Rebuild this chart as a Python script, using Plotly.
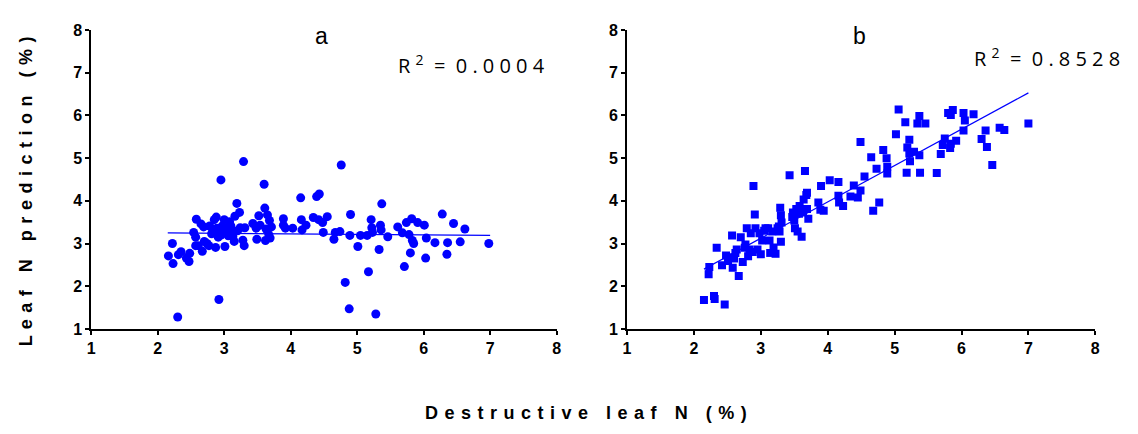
import plotly.graph_objects as go

# ---- Panel a data (destructive N vs predicted N) ----
a_x = [2.16, 2.22, 2.23, 2.30, 2.31, 2.35, 2.43, 2.47, 2.48, 2.54, 2.57, 2.58, 2.57, 2.61, 2.65,
       2.67, 2.69, 2.74, 2.77, 2.78, 2.81, 2.85, 2.87, 2.88, 2.89, 2.91, 2.92, 2.93, 2.95, 2.97,
       3.00, 3.01, 3.03, 3.05, 3.08, 3.10, 3.13, 3.15, 3.16, 3.19, 3.23, 3.24, 3.28, 3.29, 3.30,
       3.31, 3.43, 3.48, 3.49, 3.52, 3.54, 3.60, 3.61, 3.62, 3.63, 3.65, 3.67, 3.68, 3.69, 3.71,
       3.89, 3.89, 3.92, 4.03, 4.15, 4.16, 4.17, 4.23, 4.34, 4.39, 4.43, 4.42, 4.48, 4.49, 4.55,
       4.65, 4.67, 4.74, 4.76, 4.82, 4.88, 4.89, 4.90, 5.01, 5.05, 5.15, 5.17, 5.21, 5.22, 5.23,
       5.28, 5.33, 5.35, 5.36, 5.37, 5.46, 5.61, 5.68, 5.71, 5.74, 5.78, 5.80, 5.82, 5.83, 5.85,
       5.91, 6.01, 6.03, 6.04, 6.17, 6.28, 6.35, 6.36, 6.45, 6.55, 6.62, 6.98,
       2.83, 2.95, 3.06, 3.20, 2.70, 3.12]
a_y = [2.71, 3.00, 2.53, 1.28, 2.74, 2.81, 2.66, 2.58, 2.77, 3.26, 3.15, 3.57, 2.95, 2.95, 3.46,
       2.82, 3.39, 3.00, 2.95, 3.41, 3.23, 3.56, 2.91, 3.62, 3.36, 3.15, 1.69, 3.28, 4.49, 3.41,
       3.56, 2.93, 3.25, 3.36, 3.51, 3.41, 3.16, 3.05, 3.64, 3.94, 3.73, 3.37, 3.08, 4.92, 2.95,
       3.37, 3.47, 3.36, 3.10, 3.65, 3.43, 4.39, 3.83, 3.07, 3.34, 3.67, 3.21, 3.54, 3.13, 3.39,
       3.58, 3.43, 3.36, 3.36, 4.07, 3.56, 3.32, 3.43, 3.61, 4.10, 4.16, 3.56, 3.49, 3.26, 3.63,
       3.10, 3.26, 3.28, 4.84, 2.09, 1.47, 3.19, 3.68, 2.93, 3.19, 3.19, 2.34, 3.56, 3.37, 3.26,
       1.35, 2.86, 3.43, 3.32, 3.93, 3.16, 3.39, 3.25, 2.46, 3.49, 3.21, 2.78, 3.58, 3.07, 3.00,
       3.49, 3.43, 2.66, 3.13, 3.02, 3.69, 2.75, 3.02, 3.47, 3.04, 3.34, 3.00,
       3.30, 3.20, 3.18, 3.30, 3.05, 3.28]
trend_a_x = [2.15, 7.0]
trend_a_y = [3.25, 3.19]

# ---- Panel b data ----
b_x = [2.15, 2.22, 2.23, 2.30, 2.31, 2.34, 2.42, 2.46, 2.48, 2.51, 2.57, 2.58, 2.60, 2.64, 2.67,
       2.70, 2.73, 2.76, 2.79, 2.81, 2.83, 2.85, 2.89, 2.91, 2.92, 2.95, 2.98, 3.00, 3.02, 3.07,
       3.11, 3.13, 3.14, 3.17, 3.19, 3.22, 3.25, 3.28, 3.29, 3.30, 3.30, 3.31, 3.43, 3.48, 3.50,
       3.51, 3.53, 3.55, 3.58, 3.61, 3.63, 3.64, 3.66, 3.68, 3.69, 3.71, 3.69, 3.86, 3.90, 3.89,
       3.94, 4.03, 4.16, 4.16, 4.17, 4.23, 4.34, 4.39, 4.45, 4.49, 4.49, 4.55, 4.65, 4.68, 4.73,
       4.77, 4.83, 4.88, 4.89, 4.89, 5.02, 5.06, 5.16, 5.18, 5.19, 5.22, 5.23, 5.22, 5.29, 5.34,
       5.37, 5.37, 5.38, 5.46, 5.63, 5.69, 5.72, 5.75, 5.80, 5.83, 5.84, 5.87, 5.84, 5.92, 6.03,
       6.03, 6.05, 6.18, 6.30, 6.36, 6.38, 6.46, 6.57, 6.64, 7.00,
       2.52, 2.62, 2.77, 2.88, 3.05, 3.27, 3.47, 3.57]
b_y = [1.68, 2.28, 2.45, 1.77, 1.70, 2.90, 2.49, 1.57, 2.72, 2.59, 3.19, 2.43, 2.65, 2.86, 2.24,
       3.15, 2.57, 2.90, 3.36, 2.70, 2.86, 3.24, 4.35, 3.68, 3.36, 2.86, 3.24, 2.75, 3.07, 3.36,
       3.36, 3.07, 2.78, 3.28, 2.91, 2.76, 3.36, 3.28, 3.84, 3.66, 3.04, 3.49, 4.60, 3.73, 3.54,
       3.36, 3.81, 3.28, 3.88, 3.16, 3.73, 4.03, 4.70, 4.14, 4.19, 3.58, 3.81, 3.96, 4.35, 3.79,
       3.77, 4.48, 4.44, 4.12, 3.96, 3.88, 4.10, 4.36, 4.08, 5.38, 4.24, 4.57, 5.02, 3.77, 4.75,
       3.96, 5.19, 5.00, 4.80, 4.64, 5.56, 6.14, 5.84, 4.66, 5.25, 5.43, 4.93, 5.11, 5.15, 5.81,
       5.99, 5.07, 4.66, 5.81, 4.65, 5.10, 5.31, 5.46, 6.06, 5.24, 6.01, 6.13, 5.34, 5.41, 6.06,
       5.65, 5.88, 6.03, 5.45, 5.65, 5.26, 4.84, 5.71, 5.66, 5.81,
       2.68, 2.78, 2.98, 2.80, 3.30, 3.40, 3.62, 3.70]
trend_b_x = [2.15, 7.0]
trend_b_y = [2.40, 6.53]

tick_vals = [1, 2, 3, 4, 5, 6, 7, 8]
tick_text = ["1", "2", "3", "4", "5", "6", "7", "8"]

BLUE = "#0000FF"
W, H = 1138, 434

fig = go.Figure()
fig.add_trace(go.Scatter(x=a_x, y=a_y, mode="markers", xaxis="x", yaxis="y",
                         marker=dict(symbol="circle", size=9, color=BLUE), showlegend=False))
fig.add_trace(go.Scatter(x=trend_a_x, y=trend_a_y, mode="lines", xaxis="x", yaxis="y",
                         line=dict(color=BLUE, width=1.2), showlegend=False))
fig.add_trace(go.Scatter(x=b_x, y=b_y, mode="markers", xaxis="x2", yaxis="y2",
                         marker=dict(symbol="square", size=8, color=BLUE), showlegend=False))
fig.add_trace(go.Scatter(x=trend_b_x, y=trend_b_y, mode="lines", xaxis="x2", yaxis="y2",
                         line=dict(color=BLUE, width=1.2), showlegend=False))

tickfont = dict(family="Liberation Sans, Arial", size=16, color="black", weight="bold")
ax_common = dict(range=[1, 8], tickvals=tick_vals, ticktext=["<b>%s</b>" % t for t in tick_text],
                 showgrid=False, zeroline=False, showline=True, linecolor="black", linewidth=2,
                 ticks="outside", ticklen=4, tickwidth=1.5, tickcolor="black",
                 tickfont=tickfont, fixedrange=True)

y0, y1 = (H - 334) / H, (H - 23) / H
fig.update_layout(
    width=W, height=H,
    margin=dict(l=0, r=0, t=0, b=0),
    paper_bgcolor="white", plot_bgcolor="white",
    xaxis=dict(domain=[88 / W, 557 / W], anchor="y", **ax_common),
    yaxis=dict(domain=[y0, y1], anchor="x", **ax_common),
    xaxis2=dict(domain=[628 / W, 1100 / W], anchor="y2", **ax_common),
    yaxis2=dict(domain=[y0, y1], anchor="x2", **ax_common),
)

def spaced(s):
    # wide letter spacing, as in the original figure
    gap = " \u200a"
    return gap.join(s)

r2_font = dict(family="Open Sans, DejaVu Sans", size=20, color="black")
annots = [
    dict(text="a", x=320 / W, y=1 - 29 / H, xanchor="center",
         font=dict(family="Liberation Sans, Arial", size=23, color="black")),
    dict(text="b", x=862 / W, y=1 - 29 / H, xanchor="center",
         font=dict(family="Liberation Sans, Arial", size=23, color="black")),
    dict(text="R <sup>2</sup>  =  " + " ".join("0.0004"), x=395 / W, y=1 - 59 / H,
         xanchor="left", font=r2_font),
    dict(text="R <sup>2</sup>  =  " + " ".join("0.8528"), x=976 / W, y=1 - 52 / H,
         xanchor="left", font=r2_font),
    dict(text="<b>" + spaced("Leaf N prediction (%)") + "</b>", x=22 / W, y=1 - 191 / H,
         textangle=-90, xanchor="center",
         font=dict(family="Liberation Sans, Arial", size=18, color="black")),
    dict(text="<b>" + spaced("Destructive leaf N (%)") + "</b>", x=587 / W, y=1 - 421 / H,
         xanchor="center",
         font=dict(family="Liberation Sans, Arial", size=18, color="black")),
]
for a in annots:
    fig.add_annotation(xref="paper", yref="paper", showarrow=False, yanchor="middle", **a)

fig.write_html("out.html")
